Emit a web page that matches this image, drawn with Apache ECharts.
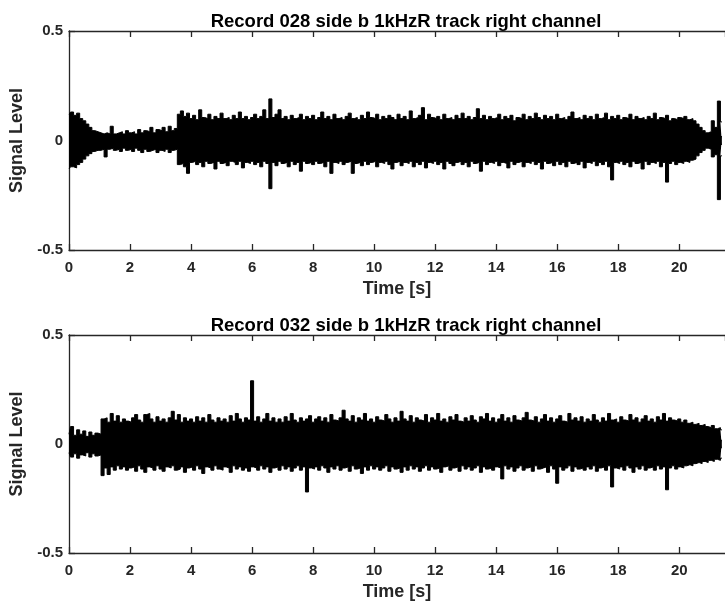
<!DOCTYPE html>
<html>
<head>
<meta charset="utf-8">
<script src="https://cdn.jsdelivr.net/npm/echarts@6/dist/echarts.min.js"></script>
<style>
  html, body { margin: 0; padding: 0; background: #ffffff; }
  #chart { width: 725px; height: 602px; }
</style>
</head>
<body>
<div id="chart"></div>
<script>
// ---- Data ----
// Envelope readings every 0.1 s, from 0.0 s to 21.4 s (215 readings each).
const TIME_STEP = 0.1;            // s between envelope readings
const X_TICKS = [0, 2, 4, 6, 8, 10, 12, 14, 16, 18, 20];
const Y_TICKS = [-0.5, 0, 0.5];
const TITLES = [
  'Record 028 side b 1kHzR track right channel',
  'Record 032 side b 1kHzR track right channel'
];

// Record 028 – upper peaks
const rec028Upper = [
  0.12, 0.13, 0.115, 0.125, 0.10, 0.09, 0.075, 0.06, 0.045, 0.04,
  0.035, 0.03, 0.035, 0.03, 0.065, 0.03, 0.035, 0.04, 0.03, 0.045,
  0.035, 0.04, 0.03, 0.05, 0.035, 0.045, 0.04, 0.06, 0.035, 0.05,
  0.045, 0.06, 0.04, 0.065, 0.045, 0.055, 0.12, 0.135, 0.11, 0.125,
  0.10, 0.115, 0.095, 0.14, 0.105, 0.10, 0.12, 0.095, 0.11, 0.10,
  0.125, 0.10, 0.105, 0.095, 0.115, 0.10, 0.13, 0.10, 0.11, 0.095,
  0.105, 0.12, 0.10, 0.11, 0.14, 0.10, 0.19, 0.105, 0.12, 0.14,
  0.10, 0.11, 0.095, 0.115, 0.10, 0.105, 0.12, 0.095, 0.11, 0.10,
  0.115, 0.095, 0.105, 0.13, 0.10, 0.11, 0.095, 0.12, 0.10, 0.105,
  0.095, 0.11, 0.125, 0.10, 0.105, 0.095, 0.115, 0.10, 0.13, 0.105,
  0.10, 0.12, 0.095, 0.11, 0.10, 0.115, 0.105, 0.095, 0.12, 0.10,
  0.11, 0.095, 0.135, 0.10, 0.105, 0.115, 0.15, 0.095, 0.12, 0.105,
  0.10, 0.11, 0.095, 0.12, 0.10, 0.105, 0.095, 0.115, 0.10, 0.125,
  0.10, 0.11, 0.095, 0.105, 0.145, 0.10, 0.115, 0.095, 0.11, 0.10,
  0.105, 0.12, 0.095, 0.11, 0.10, 0.115, 0.09, 0.105, 0.10, 0.12,
  0.095, 0.11, 0.10, 0.125, 0.105, 0.095, 0.115, 0.10, 0.11, 0.095,
  0.12, 0.10, 0.105, 0.095, 0.11, 0.13, 0.10, 0.105, 0.095, 0.115,
  0.10, 0.11, 0.095, 0.12, 0.10, 0.105, 0.125, 0.095, 0.11, 0.10,
  0.115, 0.095, 0.105, 0.10, 0.12, 0.095, 0.11, 0.10, 0.105, 0.095,
  0.11, 0.10, 0.125, 0.095, 0.105, 0.10, 0.115, 0.09, 0.10, 0.095,
  0.105, 0.10, 0.11, 0.095, 0.10, 0.09, 0.075, 0.06, 0.045, 0.035,
  0.04, 0.09, 0.06, 0.18, 0.085
];
// Record 028 – lower peaks
const rec028Lower = [
  -0.13, -0.12, -0.125, -0.11, -0.10, -0.085, -0.07, -0.06, -0.05, -0.045,
  -0.045, -0.04, -0.075, -0.04, -0.035, -0.045, -0.04, -0.05, -0.035, -0.045,
  -0.04, -0.05, -0.035, -0.045, -0.055, -0.04, -0.05, -0.045, -0.04, -0.055,
  -0.045, -0.05, -0.04, -0.055, -0.045, -0.04, -0.11, -0.105, -0.12, -0.15,
  -0.10, -0.095, -0.11, -0.10, -0.12, -0.095, -0.105, -0.10, -0.13, -0.095,
  -0.105, -0.10, -0.115, -0.095, -0.10, -0.11, -0.095, -0.125, -0.10, -0.105,
  -0.095, -0.11, -0.10, -0.12, -0.095, -0.105, -0.22, -0.10, -0.115, -0.095,
  -0.105, -0.10, -0.12, -0.095, -0.11, -0.10, -0.14, -0.095, -0.105, -0.10,
  -0.11, -0.095, -0.105, -0.10, -0.12, -0.095, -0.15, -0.10, -0.105, -0.095,
  -0.11, -0.10, -0.095, -0.15, -0.105, -0.10, -0.115, -0.095, -0.11, -0.10,
  -0.095, -0.12, -0.10, -0.105, -0.095, -0.11, -0.13, -0.10, -0.095, -0.115,
  -0.10, -0.105, -0.095, -0.12, -0.10, -0.11, -0.095, -0.125, -0.10, -0.105,
  -0.095, -0.11, -0.10, -0.13, -0.095, -0.105, -0.115, -0.10, -0.095, -0.11,
  -0.10, -0.12, -0.095, -0.105, -0.10, -0.14, -0.095, -0.11, -0.10, -0.105,
  -0.095, -0.115, -0.10, -0.105, -0.125, -0.095, -0.11, -0.10, -0.095, -0.12,
  -0.10, -0.105, -0.095, -0.11, -0.10, -0.13, -0.095, -0.105, -0.10, -0.115,
  -0.095, -0.11, -0.10, -0.12, -0.095, -0.105, -0.10, -0.11, -0.095, -0.125,
  -0.10, -0.105, -0.095, -0.115, -0.10, -0.11, -0.095, -0.12, -0.18, -0.10,
  -0.105, -0.095, -0.11, -0.10, -0.12, -0.095, -0.105, -0.10, -0.13, -0.095,
  -0.11, -0.10, -0.105, -0.095, -0.12, -0.10, -0.19, -0.105, -0.095, -0.11,
  -0.10, -0.105, -0.095, -0.10, -0.09, -0.085, -0.07, -0.055, -0.045, -0.035,
  -0.04, -0.075, -0.065, -0.27, -0.07
];
// Record 032 – upper peaks
const rec032Upper = [
  0.045, 0.08, 0.04, 0.065, 0.045, 0.06, 0.035, 0.055, 0.04, 0.05,
  0.045, 0.115, 0.12, 0.10, 0.14, 0.105, 0.13, 0.10, 0.115, 0.105,
  0.10, 0.12, 0.135, 0.11, 0.10, 0.135, 0.14, 0.115, 0.10, 0.125,
  0.105, 0.115, 0.10, 0.12, 0.15, 0.11, 0.135, 0.10, 0.12, 0.105,
  0.115, 0.10, 0.125, 0.105, 0.12, 0.10, 0.135, 0.11, 0.10, 0.12,
  0.105, 0.115, 0.10, 0.13, 0.105, 0.14, 0.115, 0.10, 0.12, 0.11,
  0.29, 0.105, 0.125, 0.10, 0.115, 0.14, 0.105, 0.12, 0.10, 0.115,
  0.10, 0.125, 0.105, 0.14, 0.11, 0.10, 0.12, 0.105, 0.115, 0.13,
  0.10, 0.115, 0.125, 0.105, 0.12, 0.10, 0.135, 0.11, 0.105, 0.12,
  0.155, 0.115, 0.105, 0.13, 0.10, 0.12, 0.11, 0.14, 0.105, 0.115,
  0.10, 0.125, 0.11, 0.105, 0.135, 0.115, 0.10, 0.12, 0.105, 0.15,
  0.115, 0.105, 0.13, 0.10, 0.12, 0.11, 0.105, 0.135, 0.10, 0.12,
  0.11, 0.14, 0.105, 0.115, 0.10, 0.125, 0.11, 0.135, 0.105, 0.10,
  0.12, 0.105, 0.13, 0.11, 0.10, 0.125, 0.115, 0.14, 0.105, 0.12,
  0.10, 0.115, 0.135, 0.105, 0.12, 0.10, 0.13, 0.11, 0.105, 0.12,
  0.145, 0.11, 0.105, 0.125, 0.10, 0.115, 0.135, 0.105, 0.12, 0.10,
  0.115, 0.13, 0.105, 0.10, 0.14, 0.11, 0.12, 0.105, 0.125, 0.10,
  0.115, 0.105, 0.135, 0.11, 0.10, 0.12, 0.105, 0.14, 0.11, 0.115,
  0.10, 0.125, 0.11, 0.105, 0.135, 0.11, 0.12, 0.10, 0.115, 0.13,
  0.105, 0.115, 0.10, 0.125, 0.11, 0.14, 0.105, 0.12, 0.11, 0.105,
  0.115, 0.10, 0.11, 0.095, 0.10, 0.09, 0.095, 0.085, 0.09, 0.08,
  0.075, 0.085, 0.07, 0.075, 0.065
];
// Record 032 – lower peaks
const rec032Lower = [
  -0.04, -0.06, -0.045, -0.065, -0.05, -0.055, -0.04, -0.06, -0.045, -0.055,
  -0.05, -0.145, -0.11, -0.14, -0.105, -0.12, -0.10, -0.115, -0.105, -0.12,
  -0.11, -0.105, -0.125, -0.10, -0.115, -0.13, -0.105, -0.11, -0.12, -0.10,
  -0.115, -0.125, -0.105, -0.11, -0.10, -0.12, -0.115, -0.105, -0.13, -0.11,
  -0.105, -0.12, -0.10, -0.115, -0.135, -0.105, -0.11, -0.12, -0.10, -0.115,
  -0.12, -0.105, -0.11, -0.13, -0.10, -0.115, -0.105, -0.12, -0.11, -0.125,
  -0.105, -0.11, -0.12, -0.10, -0.115, -0.105, -0.13, -0.11, -0.105, -0.12,
  -0.10, -0.115, -0.105, -0.125, -0.11, -0.10, -0.12, -0.105, -0.22, -0.11,
  -0.115, -0.105, -0.12, -0.10, -0.11, -0.13, -0.105, -0.115, -0.10, -0.12,
  -0.11, -0.105, -0.125, -0.10, -0.115, -0.11, -0.135, -0.105, -0.12, -0.10,
  -0.115, -0.105, -0.12, -0.11, -0.10, -0.125, -0.105, -0.115, -0.11, -0.13,
  -0.105, -0.12, -0.10, -0.115, -0.105, -0.125, -0.11, -0.10, -0.12, -0.105,
  -0.115, -0.11, -0.13, -0.105, -0.10, -0.12, -0.11, -0.105, -0.125, -0.10,
  -0.115, -0.105, -0.12, -0.11, -0.10, -0.13, -0.105, -0.115, -0.11, -0.12,
  -0.105, -0.11, -0.16, -0.10, -0.115, -0.105, -0.125, -0.11, -0.10, -0.12,
  -0.11, -0.105, -0.125, -0.10, -0.115, -0.11, -0.105, -0.13, -0.10, -0.115,
  -0.18, -0.105, -0.12, -0.11, -0.10, -0.125, -0.105, -0.115, -0.11, -0.12,
  -0.105, -0.115, -0.10, -0.125, -0.11, -0.105, -0.12, -0.10, -0.197, -0.11,
  -0.115, -0.105, -0.12, -0.10, -0.11, -0.13, -0.105, -0.115, -0.10, -0.12,
  -0.11, -0.105, -0.12, -0.10, -0.115, -0.105, -0.21, -0.11, -0.10, -0.115,
  -0.105, -0.11, -0.10, -0.095, -0.10, -0.09, -0.085, -0.09, -0.08, -0.085,
  -0.075, -0.08, -0.07, -0.075, -0.065
];

// ---- Pair each reading with its time ----
function withTime(values) {
  return values.map((v, i) => [+(i * TIME_STEP).toFixed(3), v]);
}

const INK = '#262626';
const FONT = '"Liberation Sans", Arial, Helvetica, sans-serif';
const X_MAX = 21.5;

function bottomX(gridIndex) {
  return {
    type: 'value', gridIndex, position: 'bottom',
    min: X_TICKS[0], max: X_MAX, interval: X_TICKS[1] - X_TICKS[0],
    name: 'Time [s]', nameLocation: 'middle', nameGap: 30,
    nameTextStyle: { color: INK, fontFamily: FONT, fontWeight: 'bold', fontSize: 18 },
    axisLine: { show: true, onZero: false, lineStyle: { color: INK, width: 1.3 } },
    axisTick: { show: true, inside: true, length: 6, lineStyle: { color: INK, width: 1.3 } },
    axisLabel: {
      color: INK, fontFamily: FONT, fontWeight: 'bold', fontSize: 15, margin: 10,
      showMaxLabel: false,
      formatter: v => (X_TICKS.indexOf(v) >= 0 ? String(v) : '')
    },
    splitLine: { show: false }
  };
}
function topX(gridIndex) {
  return {
    type: 'value', gridIndex, position: 'top',
    min: X_TICKS[0], max: X_MAX, interval: X_TICKS[1] - X_TICKS[0],
    axisLine: { show: true, onZero: false, lineStyle: { color: INK, width: 1.3 } },
    axisTick: { show: true, inside: true, length: 6, lineStyle: { color: INK, width: 1.3 } },
    axisLabel: { show: false },
    splitLine: { show: false }
  };
}
function leftY(gridIndex) {
  return {
    type: 'value', gridIndex, position: 'left',
    min: Y_TICKS[0], max: Y_TICKS[2], interval: Y_TICKS[1] - Y_TICKS[0],
    name: 'Signal Level', nameLocation: 'middle', nameGap: 38,
    nameTextStyle: { color: INK, fontFamily: FONT, fontWeight: 'bold', fontSize: 18 },
    axisLine: { show: true, onZero: false, lineStyle: { color: INK, width: 1.3 } },
    axisTick: { show: true, inside: true, length: 6, lineStyle: { color: INK, width: 1.3 } },
    axisLabel: { color: INK, fontFamily: FONT, fontWeight: 'bold', fontSize: 15, margin: 6,
      formatter: v => String(v) },
    splitLine: { show: false }
  };
}

// Filled band from each peak reading; upper and lower fills overlap slightly
// across zero so no seam shows between them.
function band(values, xi, yi, fillOrigin) {
  return {
    type: 'line', xAxisIndex: xi, yAxisIndex: yi, data: withTime(values),
    step: 'middle', showSymbol: false, symbol: 'none', silent: true,
    lineStyle: { color: '#000000', width: 1 },
    areaStyle: { color: '#000000', opacity: 1, origin: fillOrigin },
    clip: true, z: 1
  };
}

const chart = echarts.init(document.getElementById('chart'), null, { renderer: 'canvas' });
chart.setOption({
  animation: false,
  backgroundColor: '#ffffff',
  title: [
    { text: TITLES[0], left: 401, top: 7, textAlign: 'center',
      textStyle: { color: '#000', fontFamily: FONT, fontWeight: 'bold', fontSize: 18.5 } },
    { text: TITLES[1], left: 401, top: 311, textAlign: 'center',
      textStyle: { color: '#000', fontFamily: FONT, fontWeight: 'bold', fontSize: 18.5 } }
  ],
  grid: [
    { left: 69, right: -1, top: 31, height: 219 },
    { left: 69, right: -1, top: 335, height: 220 }
  ],
  xAxis: [bottomX(0), topX(0), bottomX(1), topX(1)],
  yAxis: [leftY(0), leftY(1)],
  series: [
    band(rec028Upper, 0, 0, -0.02),
    band(rec028Lower, 0, 0, 0.02),
    band(rec032Upper, 2, 1, -0.02),
    band(rec032Lower, 2, 1, 0.02)
  ]
});
</script>
</body>
</html>
